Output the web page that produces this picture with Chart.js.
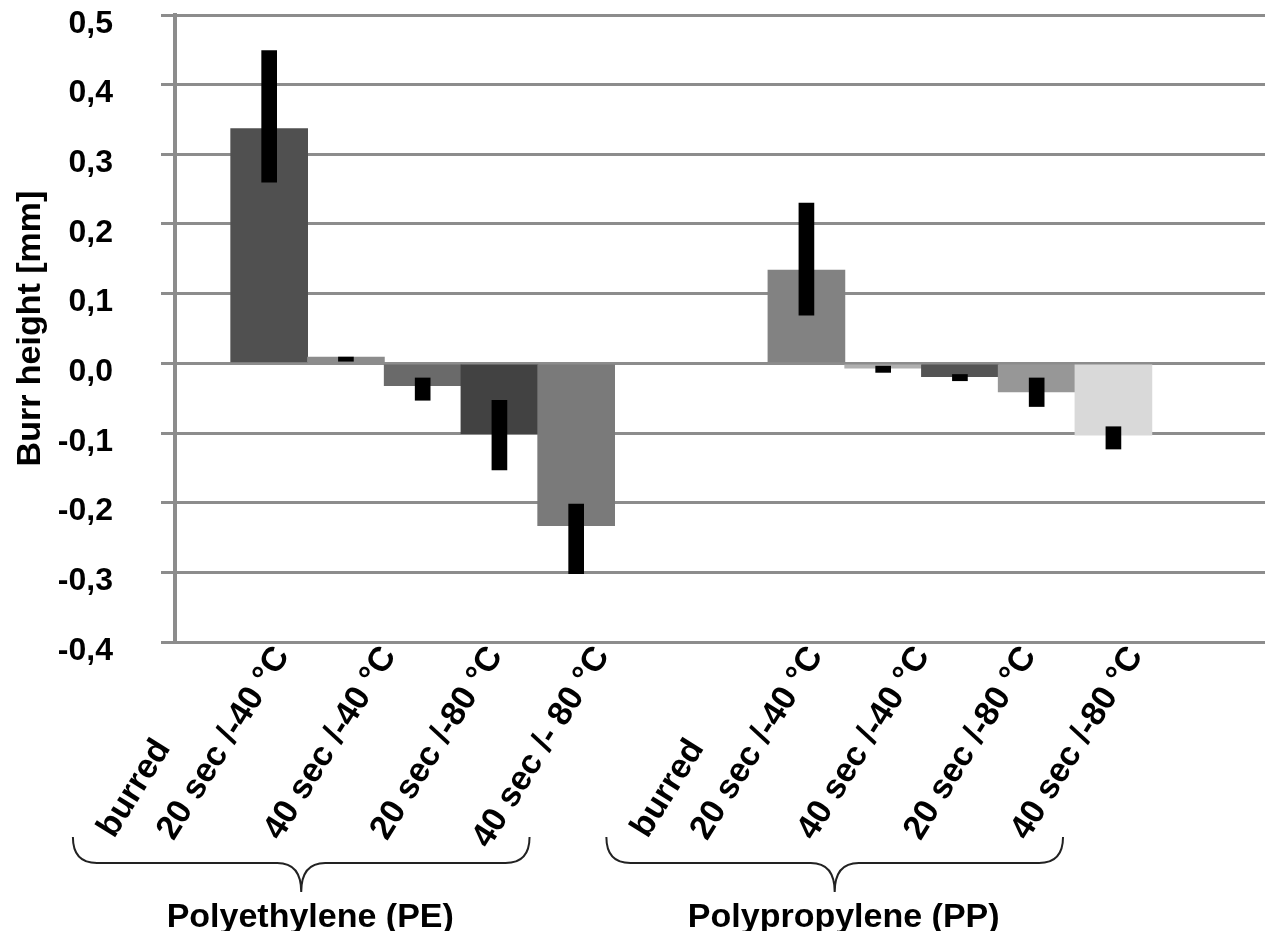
<!DOCTYPE html>
<html>
<head>
<meta charset="utf-8">
<script src="https://cdn.jsdelivr.net/npm/chart.js@4"></script>
<style>
  body { margin: 0; background: #fff; }
  canvas { display: block; }
</style>
</head>
<body>
<canvas id="burrChart" width="1268" height="931"></canvas>
<script>
// material groups and treatments
const groupNames = ['Polyethylene (PE)', 'Polypropylene (PP)'];
const peLabels = ['burred', '20 sec /-40 °C', '40 sec /-40 °C', '20 sec /-80 °C', '40 sec /- 80 °C'];
const ppLabels = ['burred', '20 sec /-40 °C', '40 sec /-40 °C', '20 sec /-80 °C', '40 sec /-80 °C'];

// burr height [mm], mean and error range
const peMean    = [0.337, 0.009, -0.032, -0.101, -0.233];
const peErrLow  = [0.260, 0.003, -0.053, -0.153, -0.302];
const peErrHigh = [0.449, 0.009, -0.021, -0.053, -0.202];
const ppMean    = [0.134, -0.007, -0.019, -0.041, -0.103];
const ppErrLow  = [0.069, -0.013, -0.025, -0.062, -0.123];
const ppErrHigh = [0.230, -0.004, -0.016, -0.021, -0.091];

const peColors = ['#505050', '#8c8c8c', '#6a6a6a', '#424242', '#7a7a7a'];
const ppColors = ['#828282', '#b0b0b0', '#545454', '#979797', '#d9d9d9'];

const fontFamily = '"Liberation Sans", Arial, Helvetica, sans-serif';
const gridGray = '#8c8c8c';
const groupGap = 2; // empty slots between PE and PP

// build bar / error bar points on the index axis
let barPoints = [], errPoints = [], barColors = [];
function addGroup(means, lows, highs, colors, start) {
    for (let i = 0; i < means.length; i++) {
        barPoints.push({ x: start + i, y: means[i] });
        errPoints.push({ x: start + i, y: [lows[i], highs[i]] });
        barColors.push(colors[i]);
    }
}
addGroup(peMean, peErrLow, peErrHigh, peColors, 0);
addGroup(ppMean, ppErrLow, ppErrHigh, ppColors, peMean.length + groupGap);

// tick text of the label axis: each group is "burred" + 4 treatments
function slotLabel(v) {
    let g = Math.floor((v + 1) / 5), j = (v + 1) - 5 * g;
    let list = [peLabels, ppLabels][g];
    if (!list) return '';
    if (j === 0) return ['', list[0] + '         '];
    return list[j];
}

function drawBrace(ctx, x0, x1, yTop, yTip) {
    let mid = (x0 + x1) / 2, yLine = yTop + 26, r = 24;
    ctx.beginPath();
    ctx.moveTo(x0, yTop);
    ctx.quadraticCurveTo(x0, yLine, x0 + r, yLine);
    ctx.lineTo(mid - r, yLine);
    ctx.quadraticCurveTo(mid, yLine, mid, yTip);
    ctx.moveTo(x1, yTop);
    ctx.quadraticCurveTo(x1, yLine, x1 - r, yLine);
    ctx.lineTo(mid + r, yLine);
    ctx.quadraticCurveTo(mid, yLine, mid, yTip);
    ctx.stroke();
}

// braces and group names under the treatment labels
const groupBraces = {
    id: 'groupBraces',
    afterDraw(chart) {
        let ctx = chart.ctx, sx = chart.scales.xl, base = chart.chartArea.bottom;
        ctx.save();
        ctx.strokeStyle = '#222';
        ctx.lineWidth = 2;
        ctx.fillStyle = '#000';
        ctx.font = 'bold 34px ' + fontFamily;
        ctx.textAlign = 'center';
        ctx.textBaseline = 'alphabetic';
        groupNames.forEach(function (name, g) {
            let mid = sx.getPixelForValue(g * 5 + 0.18);
            let half = sx.getPixelForValue(2.14) - sx.getPixelForValue(0);
            drawBrace(ctx, mid - half, mid + half, base + 195, base + 250);
            ctx.fillText(name, mid + 9, base + 285);
        });
        ctx.restore();
    }
};

new Chart(document.getElementById('burrChart'), {
    type: 'bar',
    data: {
        datasets: [{
            label: 'error',
            data: errPoints,
            backgroundColor: '#000',
            barThickness: 15,
            grouped: false,
            order: 0
        }, {
            label: 'burr height',
            data: barPoints,
            backgroundColor: barColors,
            barThickness: 77,
            grouped: false,
            order: 1
        }]
    },
    options: {
        responsive: false,
        animation: false,
        layout: { padding: { top: 15, right: 3, bottom: 0, left: 0 } },
        plugins: { legend: { display: false }, tooltip: { enabled: false } },
        scales: {
            x: {
                type: 'linear',
                display: false,
                bounds: 'data',
                offset: false,
                min: -1.227,
                max: 12.975
            },
            xl: {
                type: 'linear',
                position: 'bottom',
                bounds: 'data',
                offset: false,
                min: -1.003,
                max: 9.213,
                grid: { display: false, offset: false },
                border: { display: false },
                ticks: {
                    autoSkip: false,
                    minRotation: 58,
                    maxRotation: 58,
                    padding: -10,
                    color: '#000',
                    font: { family: fontFamily, size: 34, weight: 'bold', lineHeight: 1.14 },
                    callback: function (v) { return slotLabel(v); }
                },
                // one tick per label slot
                afterBuildTicks: function (axis) {
                    let ticks = [];
                    for (let v = Math.ceil(axis.min); v <= Math.floor(axis.max); v++) ticks.push({ value: v });
                    axis.ticks = ticks;
                },
                afterFit: function (axis) {
                    axis.height = 289;
                    axis.paddingLeft = 0;
                    axis.paddingRight = 0;
                }
            },
            y: {
                min: -0.4,
                max: 0.5,
                bounds: 'data',
                grid: { color: gridGray, lineWidth: 3, tickLength: 14 },
                border: { color: gridGray, width: 4 },
                ticks: {
                    stepSize: 0.1,
                    padding: 48,
                    labelOffset: 9,
                    color: '#000',
                    font: { family: fontFamily, size: 32, weight: 'bold' },
                    callback: function (v) {
                        if (Math.abs(v) < 1e-9) v = 0;
                        return v.toFixed(1).replace('.', ',');
                    }
                },
                title: {
                    display: true,
                    text: 'Burr height [mm]',
                    color: '#000',
                    font: { family: fontFamily, size: 34, weight: 'bold' },
                    padding: { top: 10, bottom: 0 }
                },
                afterFit: function (axis) {
                    axis.width = 175;
                    axis.paddingTop = 0;
                    axis.paddingBottom = 0;
                }
            }
        }
    },
    plugins: [groupBraces]
});
</script>
</body>
</html>
